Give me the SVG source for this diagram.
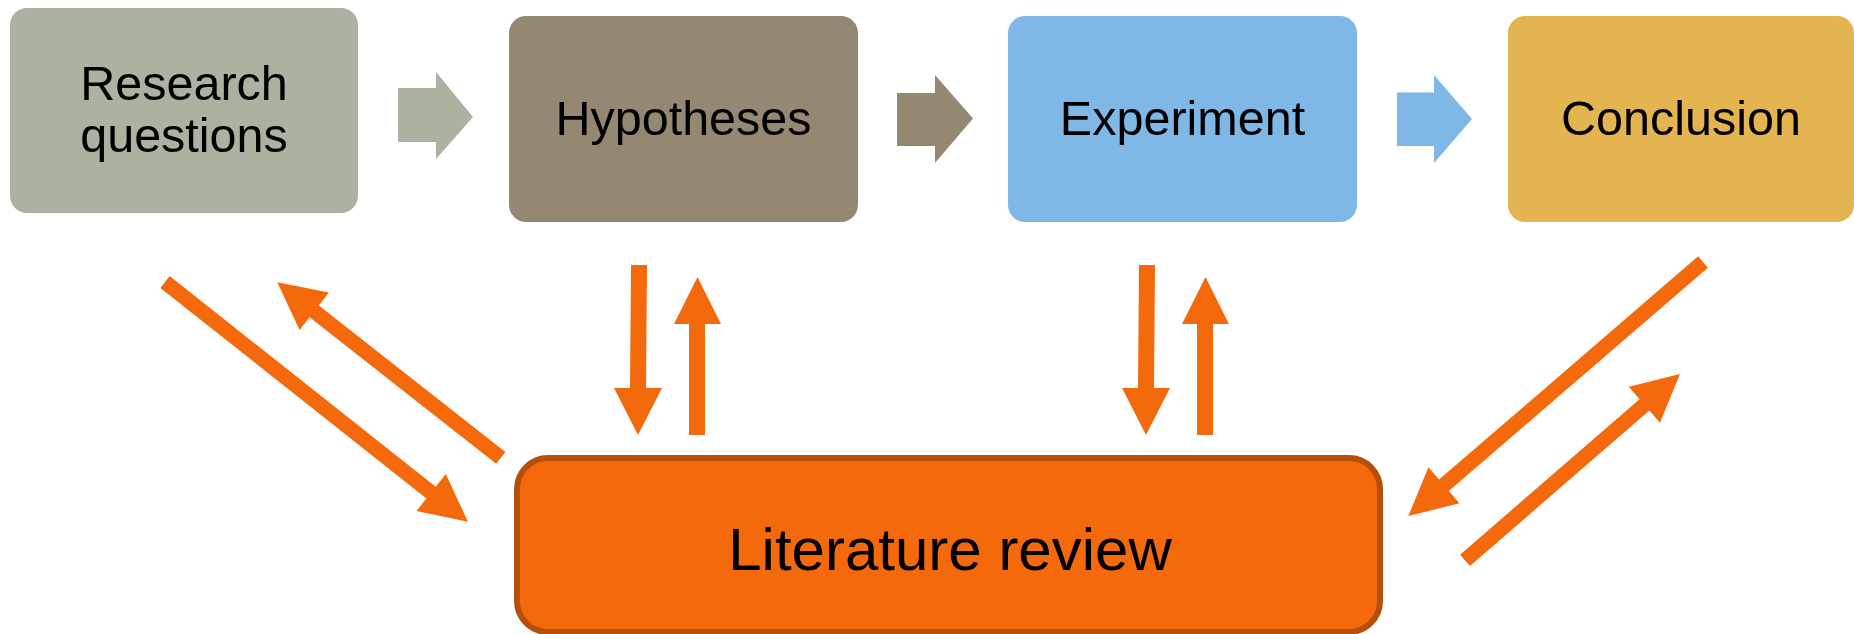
<svg xmlns="http://www.w3.org/2000/svg" width="1854" height="634" viewBox="0 0 1854 634">
<style>
.lbl{font-family:"Liberation Sans",Arial,sans-serif;font-size:48.5px;fill:#000;text-anchor:middle}
.big{font-size:60px}
.or{fill:#f4690c}
</style>
<rect width="1854" height="634" fill="#ffffff"/>
<g id="connectors">
<polygon id="arrow-rq-hy" points="398,88 436,88 436,72 473,117 436,159 436,142 398,142" fill="#abb29f"/>
<polygon id="arrow-hy-ex" points="897,93 935,93 935,75 973,118.5 935,163 935,146 897,146" fill="#958873"/>
<polygon id="arrow-ex-co" points="1397,92.5 1434,92.5 1434,75 1472,119 1434,163 1434,146 1397,146" fill="#7fb7e6"/>
<polygon class="or" transform="translate(165,282) rotate(38.35)" points="0,-7.5 339.3,-7.5 339.3,-23.7 386.3,0 339.3,23.7 339.3,7.5 0,7.5"/>
<polygon class="or" transform="translate(500.8,457.8) rotate(218.14)" points="0,-7.5 237.2,-7.5 237.2,-23.8 284.2,0 237.2,23.8 237.2,7.5 0,7.5"/>
<polygon class="or" points="631,265 647,265 646,388 662,388 638,435 614,388 630,388"/>
<polygon class="or" points="689,435 705,435 705,324 721,324 697.5,277 674,324 689,324"/>
<polygon class="or" points="1139,265 1155,265 1154,388 1170,388 1146,435 1122,388 1138,388"/>
<polygon class="or" points="1197,435 1213,435 1213,324 1229,324 1205.5,277 1182,324 1197,324"/>
<polygon class="or" transform="translate(1703,262) rotate(139.24)" points="0,-7.5 342,-7.5 342,-23.8 389,0 342,23.8 342,7.5 0,7.5"/>
<polygon class="or" transform="translate(1465,560.4) rotate(-40.92)" points="0,-7.5 237.5,-7.5 237.5,-23.8 284.5,0 237.5,23.8 237.5,7.5 0,7.5"/>
</g>
<g id="research-questions">
<rect x="10" y="8" width="348" height="205" rx="17" fill="#abb29f"/>
<text class="lbl" x="184" y="99.5">Research</text>
<text class="lbl" x="184" y="152">questions</text>
</g>
<g id="hypotheses">
<rect x="509" y="16" width="349" height="206" rx="17" fill="#958873"/>
<text class="lbl" x="683.5" y="135">Hypotheses</text>
</g>
<g id="experiment">
<rect x="1008" y="16" width="349" height="206" rx="17" fill="#7fb7e6"/>
<text class="lbl" x="1182.5" y="135">Experiment</text>
</g>
<g id="conclusion">
<rect x="1508" y="16" width="346" height="206" rx="17" fill="#e3b450"/>
<text class="lbl" x="1681" y="135">Conclusion</text>
</g>
<g id="literature-review">
<rect x="517" y="458" width="863" height="174" rx="31" fill="#f4690c" stroke="#b5500b" stroke-width="6"/>
<text class="lbl big" x="950" y="570">Literature review</text>
</g>
</svg>
